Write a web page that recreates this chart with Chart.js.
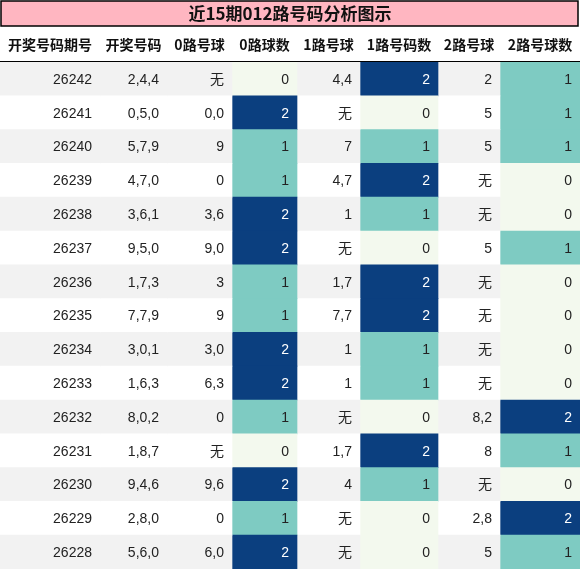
<!DOCTYPE html>
<html>
<head>
<meta charset="utf-8">
<script src="https://cdn.jsdelivr.net/npm/chart.js@4"></script>
<style>
body { margin: 0; background: #fff; }
</style>
</head>
<body>
<canvas id="c" width="580" height="569"></canvas>
<script>
// 表格数据
const headers = ['开奖号码期号', '开奖号码', '0路号球', '0路球数', '1路号球', '1路号码数', '2路号球', '2路号球数']
const periods = ['26242','26241','26240','26239','26238','26237','26236','26235','26234','26233','26232','26231','26230','26229','26228']
const draws = ['2,4,4','0,5,0','5,7,9','4,7,0','3,6,1','9,5,0','1,7,3','7,7,9','3,0,1','1,6,3','8,0,2','1,8,7','9,4,6','2,8,0','5,6,0']
const road0 = ['无','0,0','9','0','3,6','9,0','3','9','3,0','6,3','0','无','9,6','0','6,0']
const count0 = [0,2,1,1,2,2,1,1,2,2,1,0,2,1,2]
const road1 = ['4,4','无','7','4,7','1','无','1,7','7,7','1','1','无','1,7','4','无','无']
const count1 = [2,0,1,2,1,0,2,2,1,1,0,2,1,0,0]
const road2 = ['2','5','5','无','无','5','无','无','无','无','8,2','8','无','2,8','5']
const count2 = [1,1,1,0,0,1,0,0,0,0,2,1,0,2,1]

const colEdges = [0, 100, 167, 232, 297, 360, 438, 500, 580]
const columns = [periods, draws, road0, count0, road1, count1, road2, count2]
const countCols = [3, 5, 7]
const countColor = ['#f3f9ee', '#7ecbc2', '#0b3f7f']

const datasets = columns.map((col, c) => ({
    data: periods.map(() => [colEdges[c], colEdges[c + 1]]),
    backgroundColor: periods.map((p, i) => countCols.includes(c)
        ? countColor[col[i]]
        : (i % 2 === 0 ? '#f2f2f2' : '#ffffff')),
    grouped: false,
    barPercentage: 1,
    categoryPercentage: 1,
    borderWidth: 0
}))

// 画标题、表头和文字
const tablePlugin = {
    id: 'tableText',
    afterDatasetsDraw(chart) {
        const ctx = chart.ctx
        const y = chart.scales.y
        const x = chart.scales.x
        ctx.save()
        // 标题
        ctx.fillStyle = '#ffb6c1'
        ctx.fillRect(1, 1, 577, 25)
        ctx.strokeStyle = '#000'
        ctx.lineWidth = 1.5
        ctx.strokeRect(1, 1, 577, 25)
        ctx.fillStyle = '#111'
        ctx.font = 'bold 17px "Noto Sans CJK SC"'
        ctx.textAlign = 'center'
        ctx.textBaseline = 'middle'
        ctx.fillText('近15期012路号码分析图示', 290, 14)
        // 表头
        ctx.font = 'bold 14px "Noto Sans CJK SC"'
        headers.forEach((h, c) => {
            ctx.fillText(h, (x.getPixelForValue(colEdges[c]) + x.getPixelForValue(colEdges[c + 1])) / 2, 45)
        })
        ctx.beginPath()
        ctx.moveTo(0, 61.5)
        ctx.lineTo(580, 61.5)
        ctx.lineWidth = 1.2
        ctx.stroke()
        // 单元格
        ctx.font = '14px "Liberation Sans", "Noto Sans CJK SC"'
        ctx.textAlign = 'right'
        columns.forEach((col, c) => {
            col.forEach((v, i) => {
                ctx.fillStyle = countCols.includes(c) && v === 2 ? '#fff' : '#222'
                ctx.fillText(String(v), x.getPixelForValue(colEdges[c + 1]) - 8, y.getPixelForValue(i) + 1)
            })
        })
        ctx.restore()
    }
}

new Chart(document.getElementById('c'), {
    type: 'bar',
    data: { labels: periods, datasets },
    options: {
        indexAxis: 'y',
        responsive: false,
        animation: false,
        layout: { padding: { top: 62, left: 0, right: 0, bottom: 0 } },
        scales: {
            x: { type: 'linear', min: 0, max: 580, display: false },
            y: { display: false, offset: true }
        },
        plugins: { legend: { display: false }, tooltip: { enabled: false } }
    },
    plugins: [tablePlugin]
})
</script>
</body>
</html>
